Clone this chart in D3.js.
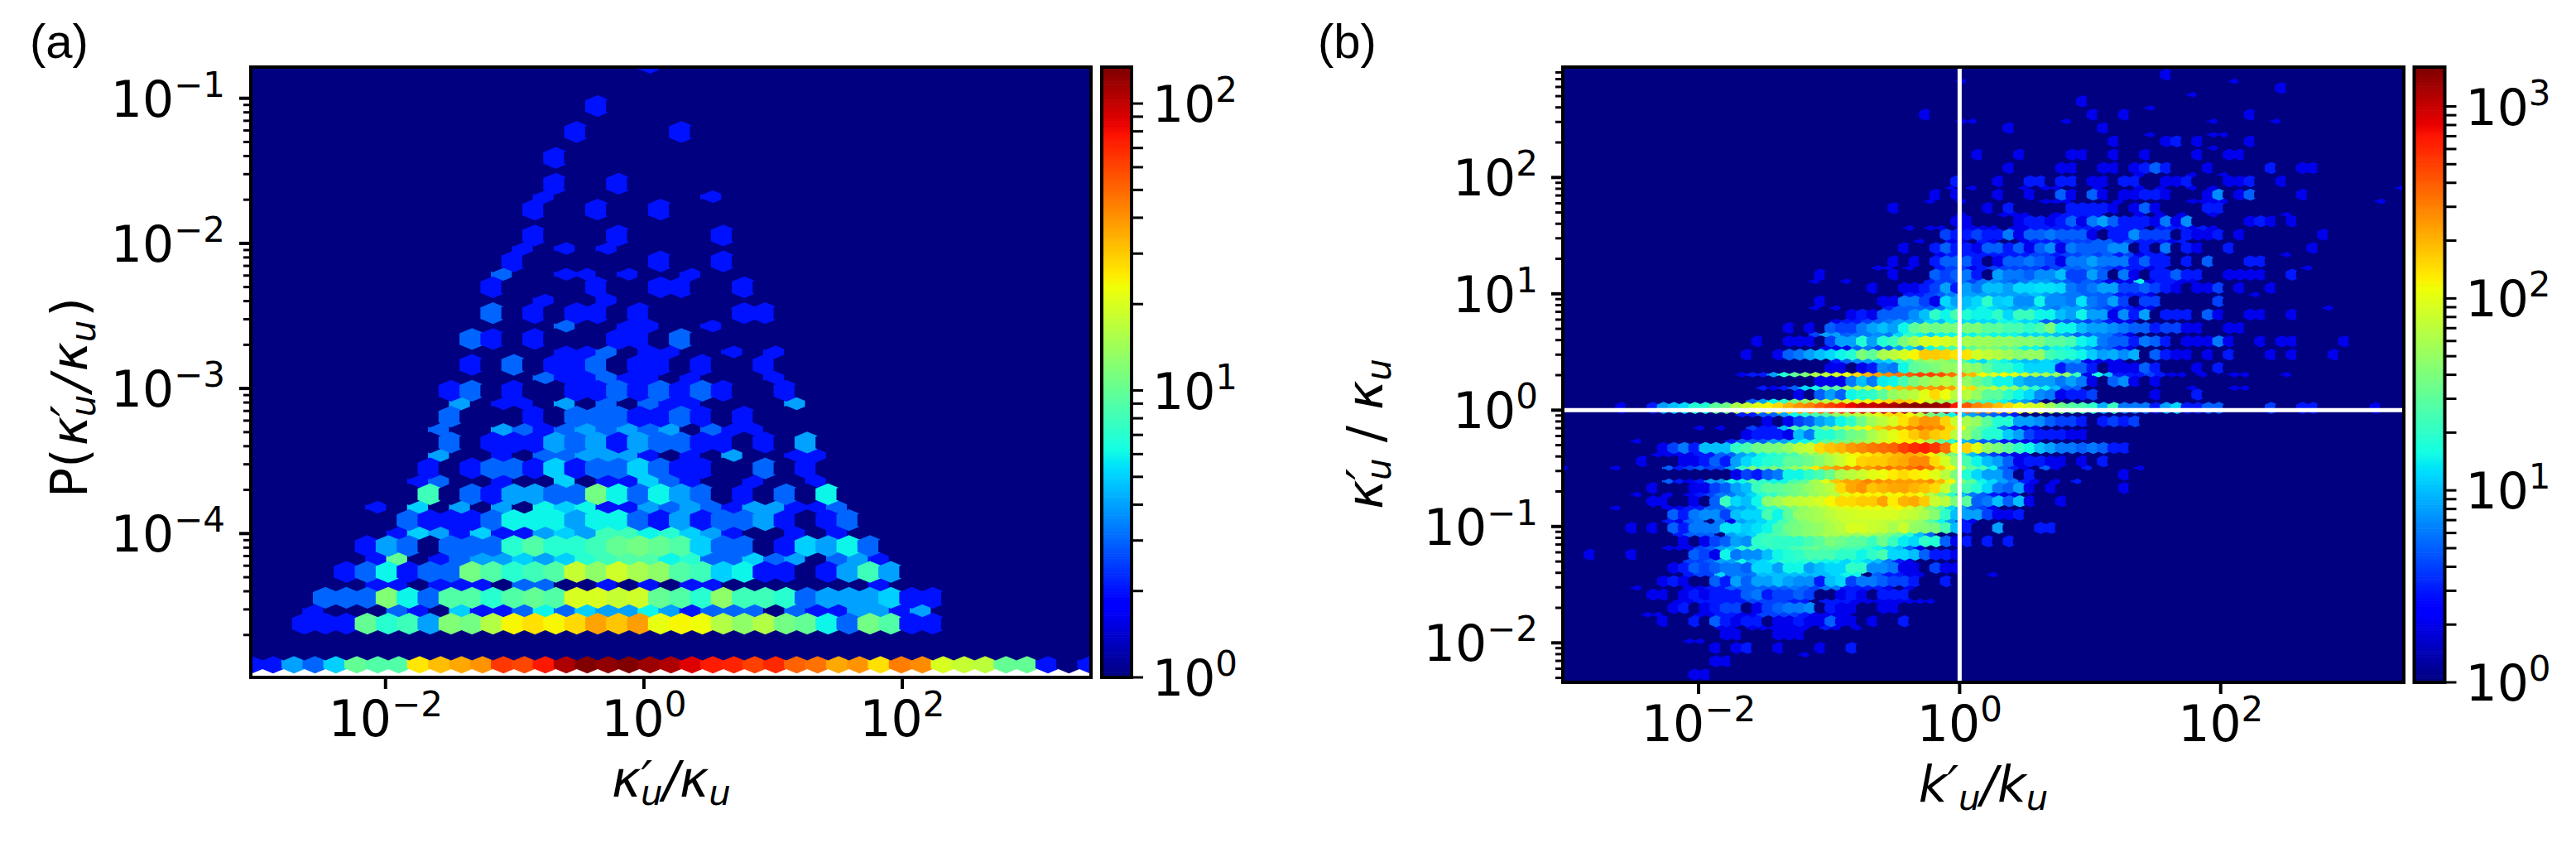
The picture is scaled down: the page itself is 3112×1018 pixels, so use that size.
<!DOCTYPE html>
<html>
<head>
<meta charset="utf-8">
<script src="https://cdn.jsdelivr.net/npm/d3@7"></script>
<style>
  body { margin: 0; background: #fff; }
  text { font-family: "DejaVu Sans"; fill: #000; }
</style>
</head>
<body>
<svg id="fig" width="3112" height="1018"></svg>
<script>
// every row is [row, first column, counts]; anything not listed is a count of 1 (dark blue)
// panel (a), lattice 1 (lower layer) and lattice 2 (upper layer)
const aLower = [
  [0, 0, [2,2,4,3,5,10,9,9,26,32,36,40,65,60,76,110,134,125,134,120,110,90,75,72,62,70,52,48,36,40,27,45,42,20,18,17,10,10,2,1,2]],
  [2, 3, [2,1,1,1,3,2,1,5,2,2,3,6,3,5,4,4,6,4,2,3,3,3,1,3,2,2,4,4,2,4]],
  [3, 6, [2,2,1,2,2,2,1,3,3,1,1,2,1,2,1,2,2,1,1,1,1,1,1,1,2]],
  [4, 6, [2,10,1,2,3,4,4,5,4,5,7,8,9,9,6,7,3,3,5,3,4,1,3,4,2]],
  [5, 7, [2,5,4,2,5,2,2,4,5,4,8,8,6,7,5,4,2,1,1,2,1,2]],
  [6, 6, [2,1,5,1,4,1,4,1,6,5,6,2,2,4,3,4,3,2,4,4,2,2,3]],
  [7, 8, [2,3,1,1,2,1,1,5,1,2,2,5,3,2,1,1,2,1,1,2]],
  [8, 9, [4,1,1,2,1,3,3,4,4,4,2,1,2,1,4,1,1,2,2]],
  [9, 9, [3,1,1,4,3,2,3,4,3,4,3,4,1,3,2,2]],
  [10, 10, [4,1,2,2,1,4,1,3,1,3,2,2,1,1,1,1,4]],
  [11, 14, [3,2,2,3,2,2,1,2,1,1,1,2]],
  [12, 15, [2,2,3,1,2,2,1,1,2,1,2]],
  [13, 15, [3,1,1,2,2,1,1,2]],
  [14, 14, [2,1,1,2]],
  [15, 12, [3,1,1,2,2,1,2,1,1,2]],
  [16, 13, [2,1,2,1,2]],
  [18, 14, [2,1,1,1,1,1,1,1,2]],
  [23, 19, [2]]
]
const aUpper = [
  [1, 2, [2,2,2,10,7,8,4,12,11,16,24,27,24,28,37,31,38,22,24,23,16,13,16,11,10,6,3,11,9,2,2]],
  [2, 3, [3,3,3,12,6,3,9,9,7,9,10,9,20,20,18,19,10,9,7,13,8,8,7,3,4,4,4,5,2,2]],
  [3, 4, [2,3,6,2,3,3,11,9,7,8,9,18,13,19,15,13,9,8,5,6,2,2,1,2,4,8,4]],
  [4, 5, [2,4,3,1,3,3,3,7,9,7,7,8,10,11,10,9,5,3,3,1,2,5,4,6,3]],
  [5, 7, [3,2,2,2,3,6,6,6,4,6,6,3,2,4,2,3,3,4,2,1,2,3]],
  [6, 8, [8,1,3,2,4,4,3,3,11,6,3,6,4,3,1,2,1,3,1,6]],
  [7, 8, [2,1,2,3,3,2,5,2,3,3,5,3,2,2,1,1,3,1,2]],
  [8, 9, [3,1,2,2,2,4,3,4,2,4,3,3,2,2,1,2,1,4]],
  [9, 9, [3,1,1,1,2,1,3,3,3,2,2,3,2,1,2]],
  [10, 9, [2,3,1,2,1,1,2,2,3,2,3,2,3,2,1,1,2]],
  [11, 10, [2,1,3,1,2,2,3,1,2,2,1,2,1,1,2]],
  [12, 10, [3,2,1,2,1,1,1,2,2,1,3]],
  [13, 11, [3,1,2,1,2,2,1,2,1,1,1,1,2,2]],
  [14, 11, [2,1,1,1,1,2,1,1,2,2,1,1,2]],
  [15, 12, [2,1,1,1,1,1,1,2,1,1,2]],
  [16, 13, [2,1,1,1,2,1,1,1,1,2]],
  [17, 13, [2,1,1,2,1,1,2]],
  [18, 14, [2,1,1,2]],
  [19, 14, [2]],
  [20, 15, [2,1,1,1,1,2]],
  [21, 16, [2]]
]

// panel (b), lattice 1 (lower layer), short rows written as [row, col, count, col, count ...]
const bLower = [
  [5, 12, [1,2,2,3,3,2,2,4,4,4,4,3,2,2,2,2]],
  [6, 11, [2,2,3,3,3,3,3,4,4,4,4,3,3,1,3,3,3,2,2,2,2,2,2,2,2]],
  [7, 12, [2,2,3,3,5,5,5,5,5,5,6,5,4,6,6,3,3,3,3,2,1,2]],
  [8, 12, [3,4,4,12,6,6,6,10,10,10,10,10,10,10,12,15,15,1,5,3,3,2,2]],
  [9, 12, [4,4,5,8,8,15,10,12,15,18,18,18,18,15,15,12,15,12,10,6,3,2]],
  [10, 12, [2,4,5,8,10,18,20,18,20,20,25,30,35,30,30,25,25,20,15,12,10,5,2]],
  [11, 11, [3,5,5,5,1,8,10,12,20,25,30,40,45,50,60,60,60,50,60,50,40,30,20,10,5]],
  [12, 10, [3,2,5,6,1,6,2,8,10,12,15,25,35,45,55,60,70,80,80,80,80,70,70,60,50,30,15,8,3,2]],
  [13, 10, [2,2,3,3,5,5,8,8,10,18,20,30,40,50,60,70,90,100,100,110,110,100,120,90,70,40,25,12,8,5,4,2]],
  [14, 12, [2,3,4,6,6,8,12,18,20,30,35,40,50,60,70,100,120,120,120,110,120,130,110,70,40,20,10,6,5,3,2,2]],
  [15, 10, [5,3,2,3,8,8,15,15,25,20,15,15,25,30,60,100,180,230,230,300,280,260,250,250,250,280,200,120,40,30,15,12,8,6,3,2,1,2,1,3]],
  [16, 0, [2,1,1,1,1,2,1,1,1,1,5,3,4,5,4,4,8,20,40,30,40,35,50,60,130,200,250,300,300,250,300,350,300,350,420,350,200,120,60,30,25,15,5,3,2,1,5,2,1,1,3,1,1,1,1,2]],
  [17, 9, [2,2,2,2,3,3,5,5,8,10,15,18,22,25,40,50,60,80,100,120,130,150,170,200,220,200,130,80,40,20,10,6,4,3,2,2]],
  [18, 16, [3,5,5,5,8,8,12,15,20,30,35,40,50,60,80,100,120,130,100,60,35,20,10,8,5,5,3,3,2,2]],
  [19, 13, [2,1,2,1,1,4,3,3,10,25,25,25,40,60,70,90,120,160,220,270,300,350,300,280,150,100,40,25,18,6,3,2,2]],
  [20, 17, [3,3,5,5,8,15,20,25,30,50,60,70,80,100,150,150,120,80,40,30,15,10,8,6,5,4,3]],
  [21, 18, [5,8,15,20,40,50,60,70,80,90,100,110,130,150,180,160,120,80,60,50,40,30,25,20,15,10,8,5]],
  [22, 19, [3,2,3,5,12,15,30,30,50,60,70,100,150,180,200,260,250,280,230,130,150,60,70,60,50,35,20,15,10,5,5,1,1,1,1,1,1,1,1,1,1,2,1,1,1,2,2]],
  [23, 17, [2,3,3,8,18,30,40,60,70,85,110,150,200,230,280,330,400,500,500,450,350,250,200,120,90,120,100,80,60,60,50,50,22,2,16,10,3,3,3,4,3,2,2,1,2,1,1,2,2,1,1,1,2]],
  [24, 26, [3,5,7,8,10,12,20,25,40,50,50,40,30,15,12,20,15,12,10,10,12,10,8,8,2,2,2,2]],
  [25, 25, [2,2,2,5,6,4,5,8,12,8,15,20,25,20,30,40,40,30,30,15,15,12,15,15,10,8,5,5,3,2]],
  [26, 24, [4,8,8,5,6,6,7,6,12,20,15,12,15,15,15,15,20,15,15,15,12,12,12,10,8,5,5,6,6,4,2]],
  [27, 26, [2,3,3,4,5,6,8,8,8,12,10,15,12,12,12,12,15,15,12,12,5,5,5,5,4,5,3,2,2]],
  [28, 31, [3,5,5,5,5,6,10,10,12,15,12,10,8,8,10,7,6,8,8,6,5,4,3,3,2,2]],
  [29, 33, [3,3,4,5,6,8,8,8,8,8,8,8,10,8,7,6,6,5,5,5,3,3,3,2]],
  [30, 35, [3,4,4,6,4,6,7,6,5,6,8,8,6,5,4,5,4,2,2,2,15,2,3,3,2,2]],
  [31, 36, [3,4,4,2,3,4,4,4,4,4,3,4,5,5,6,5,4,3,3,3,2,3]],
  [32, 36, [2,3,3,3,3,3,3,3,3,4,4,3,4,4,5,4,5,3,4,2,3,3]],
  [33, 44, [2,3,3,3,4,4,4,5,5,3,4,3,3,3,2,3]],
  [34, 43, [2,2,3,3,3,3,3,3,3,3,3,3,3,1,3,3,3,2,3,2]],
  [35, 47, [2,3,3,3,3]]
]
const bLowerSparse = [
  [2, 23,2], [3, 12,2, 13,2],
  [4, 15,2, 16,2, 18,2, 19,2, 20,2, 21,2, 22,2, 23,2, 25,3, 26,2, 28,2],
  [5, 8,2, 9,2], [7, 7,2], [8, 41,2], [10, 10,2, 11,2], [13, 5,2], [14, 7,2, 10,2], [18, 7,2],
  [28, 24,2, 26,2, 73,2], [29, 66,2], [30, 24,2, 27,2], [31, 30,2, 31,2, 33,2, 71,2], [32, 69,2],
  [33, 34,2, 37,2, 38,2, 40,3, 41,2],
  [34, 33,2, 35,2, 36,2, 38,2, 39,2, 40,2, 41,2],
  [35, 38,2, 42,2, 43,2, 44,2, 55,2, 57,2, 59,2, 62,2, 69,2],
  [36, 35,2, 38,2, 46,2, 47,2, 48,2, 53,2, 60,2, 61,2, 62,2, 63,2, 78,2],
  [37, 37,2, 39,2, 44,2, 46,2, 47,2, 51,2, 55,2, 57,2, 60,2, 62,2, 80,2],
  [38, 55,2, 60,2, 63,2], [40, 62,2], [41, 56,2, 62,2, 63,2],
  [42, 38,2, 39,2, 48,2, 62,2, 68,2], [43, 56,2], [44, 60,2], [45, 38,2, 64,2]
]
// panel (b), lattice 2 (upper layer)
const bUpper = [
  [4, 9, [2,1,1,3,1,5,3,2,3,3,1,2,2,3,2,2,5,2,2,1,2,1,1,3]],
  [5, 10, [2,3,1,2,3,4,4,1,2,4,5,6,6,7,1,3,2,2,1,1,2,2]],
  [6, 8, [2,2,1,2,3,2,3,3,3,5,6,3,4,4,5,4,1,1,2,3,2,1,3,3,3]],
  [7, 9, [2,3,2,1,1,5,3,8,5,8,8,10,8,7,7,3,10,12,4,6,6,5,4,4,3,1,1,3]],
  [8, 10, [2,3,5,4,5,6,6,5,12,12,8,15,15,8,10,12,12,20,20,7,7,6,2,2,1,4,2,2]],
  [9, 2, [2,1,1,1,2,1,1,1,1,1,5,4,2,15,6,7,7,10,15,18,20,25,25,25,20,20,15,20,25,12,12,10,5,3,3,2]],
  [10, 11, [2,1,2,4,5,8,7,20,22,20,20,20,25,30,40,35,30,30,22,35,22,14,12,20,18,5,2,3,1,3,1,3]],
  [11, 6, [2,1,2,1,5,3,6,6,6,13,13,11,13,15,25,35,40,45,50,60,70,90,90,80,75,60,80,50,45,40,25,10,3,1,1,8,1,1,1,3,3]],
  [12, 10, [5,3,6,7,7,4,10,12,12,25,15,30,50,55,60,70,80,85,90,90,90,90,80,75,60,45,20,10,8,8,4,2,2,3]],
  [13, 8, [2,2,1,1,2,1,5,22,12,10,15,45,55,70,75,80,90,120,150,150,170,170,230,130,200,220,170,80,70,40,30,5,6,10,5,10,2,1,1,2]],
  [14, 8, [2,1,1,1,2,2,4,5,8,10,22,30,30,35,40,50,60,70,150,220,260,180,200,220,230,200,180,150,80,35,25,18,12,6,5,8,2,1,2,1,1,1,1,1,1,2]],
  [15, 16, [2,4,3,5,6,15,15,20,25,35,60,70,80,100,110,130,150,130,120,100,70,40,18,12,8,8,5,1,3,1,1,1,1,1,1,1,1,2]],
  [16, 7, [2,1,1,1,2,2,3,5,3,8,12,15,18,20,30,30,35,45,60,80,110,160,170,170,200,220,280,280,150,90,50,25,15,10,8,5,2,3,3,2,2,1,2,1,3]],
  [17, 9, [2,4,6,3,10,10,10,20,25,35,40,40,50,70,80,150,180,200,250,280,320,350,380,500,600,650,550,350,120,160,100,50,40,30,20,15,10,8,6,6,5,6,5,3,3]],
  [18, 17, [2,3,3,3,2,10,6,18,18,25,35,40,60,80,100,130,170,220,170,150,70,50,30,18,18,11,8,4,3,3,3,2,2]],
  [19, 19, [2,1,2,4,5,8,10,15,20,35,55,70,90,140,200,260,250,160,80,60,50,30,18,18,8,8,7,5,4,4,3,1,3,4,3,4]],
  [20, 5, [2,1,1,3,8,10,12,18,18,30,35,60,80,100,120,150,200,260,300,400,500,600,800,1000,1000,1100,1200,1400,1500,1500,1400,1200,700,420,300,250,190,150,110,90,85,55,35,28,25,20,9,22,6,6,6,3,8,12,3,3,5,5,1,1,1,1,4,1,1,3,3,1,1,1,1,1,2]],
  [21, 22, [2,1,5,8,5,15,18,20,30,50,60,70,100,150,110,70,70,50,30,30,20,15,12,7,6,2,3,3,4,1,1,1,1,1,2,1,1,1,3]],
  [22, 24, [2,2,2,6,10,6,14,15,25,40,50,60,70,60,50,35,25,15,15,10,8,8,8,6,8,6,2,1,5,7,2,1,2]],
  [23, 25, [2,2,1,2,3,7,6,15,30,35,40,50,50,50,45,30,20,20,15,12,12,12,3,5,5,3,1,2,2,2,5,3,1,1,1,2,1,3]],
  [24, 17, [2,1,1,2,5,6,8,10,12,15,18,40,30,60,70,90,120,170,170,160,140,140,85,75,65,55,45,50,50,24,20,18,15,11,8,9,7,9,1,5,3,2,2,1,2,1,3,1,1,1,2,1,2,1,1,1,2]],
  [25, 18, [2,1,1,2,2,2,1,4,8,8,18,8,18,22,40,60,90,100,90,80,60,55,55,50,50,45,45,40,30,30,25,15,13,6,5,5,3,6,5,3,1,2,2,2,6,2,1,1,2,1,2,2,1,1,1,1,2]],
  [26, 21, [2,1,2,1,5,4,4,6,8,10,8,15,30,40,35,40,40,40,40,30,30,25,25,20,25,40,15,15,10,8,8,7,6,5,5,3,4,4,2,2,1,1,2,2]],
  [27, 27, [2,3,2,5,5,5,7,10,20,15,25,18,15,15,20,12,22,22,15,15,10,8,15,8,8,2,7,3,8,1,3,3,3,1,5,2,1,1,2,2,1,1,2]],
  [28, 24, [2,1,1,1,1,1,2,2,6,6,4,2,12,8,10,12,20,11,12,7,7,15,7,7,6,13,6,5,8,4,1,4,4,1,1,1,1,1,4]],
  [29, 29, [2,1,1,2,2,3,4,8,3,8,6,10,10,8,12,12,13,13,12,6,5,6,8,8,4,4,5,4,3,2,1,2,2,4,1,2,1,1,2]],
  [30, 24, [2,1,1,1,1,1,1,2,1,1,1,5,4,5,6,3,1,8,6,6,5,7,7,10,4,4,8,5,1,6,2,1,3,3,5,3,3,1,1,2,2,2,2,1,1,3]],
  [31, 31, [2,1,2,1,3,5,5,5,3,1,2,5,5,6,5,4,2,6,6,8,6,6,6,3,5,3,3,1,3,1,5,1,1,1,3,3]],
  [32, 32, [2,1,1,3,5,3,3,2,5,5,3,5,2,5,7,2,6,5,5,5,7,7,1,3,1,6,1,3,2,1,1,3,1,1,1,1,1,1,1,2]],
  [33, 36, [4,3,3,4,3,3,6,2,5,5,6,5,5,5,2,1,3,3,7,4,4,4,1,3,2,2,3,1,2,1,1,1,1,1,1,1,2]],
  [34, 37, [2,2,1,1,1,1,2,3,3,2,3,5,2,6,8,5,3,3,3,2,6,2,7,1,1,1,1,1,2,3,2,1,2]],
  [35, 31, [2,1,1,1,1,1,1,1,1,2,1,3,1,1,1,1,1,3,3,3,3,2,1,2,5,2,1,1,1,1,3,3]],
  [36, 35, [2,1,2,1,1,1,2,1,1,2,1,1,5,2,1,5,2,1,2,2,3,3,2,1,1,1,2,7,1,2,5,1,1,1,1,2]],
  [37, 37, [3,1,1,1,2,1,1,3,3,1,3,3,1,2,2,1,3,3,1,1,2,2,3,1,1,1,2,2,3,1,1,2]]
]
const bUpperSparse = [
  [0, 12,2, 13,2], [1, 14,2, 15,2], [2, 14,2, 16,2, 17,3, 20,2, 24,2, 27,3], [3, 15,2, 16,2, 20,2, 21,2, 22,2],
  [38, 42,2, 47,2, 48,2, 51,2, 52,2, 54,2, 55,3, 56,5, 57,3, 61,2, 67,3, 70,2, 71,2],
  [39, 39,2, 43,2, 48,2, 49,2, 52,2, 55,2, 60,2, 63,2, 64,2],
  [40, 52,2, 57,2, 58,3, 60,2, 65,2], [41, 42,2, 51,2], [42, 34,2, 50,2, 53,2, 65,2],
  [43, 49,2], [44, 68,2], [45, 57,2]
]

const xTicks = [-2, 0, 2]
const yTicksA = [-4, -3, -2, -1]
const yTicksB = [-2, -1, 0, 1, 2]
const cbarTicksA = [0, 1, 2]
const cbarTicksB = [0, 1, 2, 3]
const cbarMaxA = 134
const cbarMaxB = 1603
const panelNames = ['(a)', '(b)']

const svg = d3.select('#fig')

const jetR = d3.scaleLinear().domain([0, 0.35, 0.66, 0.89, 1]).range([0, 0, 1, 1, 0.5])
const jetG = d3.scaleLinear().domain([0, 0.125, 0.375, 0.64, 0.91, 1]).range([0, 0, 1, 1, 0, 0])
const jetB = d3.scaleLinear().domain([0, 0.11, 0.34, 0.65, 1]).range([0.5, 1, 1, 0, 0])
const jet = (t) => d3.rgb(jetR(t) * 255, jetG(t) * 255, jetB(t) * 255).formatHex()

function minorValues (lo, hi) {
  const out = []
  d3.range(lo, hi).forEach((e) => {
    d3.range(2, 10).forEach((m) => out.push(m * Math.pow(10, e)))
  })
  return out
}

function fillCounts (rows, sparse) {
  const counts = new Map()
  rows.forEach(([j, start, vals]) => {
    vals.forEach((v, k) => counts.set((start + k) + ',' + j, v))
  })
  sparse.forEach((r) => {
    for (let k = 1; k < r.length; k += 2) counts.set(r[k] + ',' + r[0], r[k + 1])
  })
  return counts
}

function powerLabel (sel, exp) {
  sel.append('tspan').text('10')
  sel.append('tspan')
    .attr('font-size', 42)
    .attr('dy', -24)
    .text(String(exp).replace('-', '\u2212'))
}

// parts are { t, sub, roman, gap }; the whole label is oblique apart from roman pieces
function mathLabel (sel, parts) {
  let lift = 0
  parts.forEach((p) => {
    const drop = p.sub ? 10 : 0
    sel.append('tspan')
      .attr('font-size', p.sub ? 42 : 60)
      .attr('font-style', p.roman ? 'normal' : 'italic')
      .attr('dy', drop - lift)
      .attr('dx', p.gap || 0)
      .text(p.t)
    lift = drop
  })
}

function drawHexbin (p) {
  const g = svg.append('g')
  g.append('clipPath').attr('id', 'clip' + p.id).append('rect')
    .attr('x', p.left).attr('y', p.top)
    .attr('width', p.right - p.left).attr('height', p.bottom - p.top)

  const x = d3.scaleLog().domain(p.xDomain.map((d) => Math.pow(10, d))).range([p.left, p.right])
  const y = d3.scaleLog().domain(p.yDomain.map((d) => Math.pow(10, d))).range([p.bottom, p.top])
  const color = d3.scaleLog().domain([1, p.cMax]).range([0, 1])

  const lower = fillCounts(p.lower, p.lowerSparse)
  const upper = fillCounts(p.upper, p.upperSparse)
  const cells = []
  d3.range(p.nx + 1).forEach((i) => {
    d3.range(p.ny + 1).forEach((j) => {
      cells.push({ lx: p.x0 + i * p.dx, ly: p.y0 + j * p.dy, v: lower.get(i + ',' + j) || 1 })
    })
  })
  d3.range(p.nx).forEach((i) => {
    d3.range(p.ny).forEach((j) => {
      cells.push({ lx: p.x0 + (i + 0.5) * p.dx, ly: p.y0 + (j + 0.5) * p.dy, v: upper.get(i + ',' + j) || 1 })
    })
  })

  const hexShape = [[0.5, -0.5], [0.5, 0.5], [0, 1], [-0.5, 0.5], [-0.5, -0.5], [0, -1]]
  const hexLine = d3.line()
  g.append('g')
    .attr('clip-path', 'url(#clip' + p.id + ')')
    .selectAll('path')
    .data(cells)
    .join('path')
    .attr('d', (d) => hexLine(hexShape.map((h) => [
      x(Math.pow(10, d.lx + h[0] * p.dx)),
      y(Math.pow(10, d.ly + h[1] * p.dy / 3))
    ])) + 'Z')
    .attr('fill', (d) => jet(color(d.v)))
    .attr('stroke', (d) => jet(color(d.v)))
    .attr('stroke-width', p.edge)
    .attr('stroke-linejoin', p.join)

  if (p.guides) {
    const guides = g.append('g').attr('clip-path', 'url(#clip' + p.id + ')')
      .attr('stroke', '#fff').attr('stroke-width', 5)
    guides.append('line').attr('x1', x(1)).attr('x2', x(1)).attr('y1', p.top).attr('y2', p.bottom)
    guides.append('line').attr('y1', y(1)).attr('y2', y(1)).attr('x1', p.left).attr('x2', p.right)
  }

  const yMajor = p.yTicks.map((e) => Math.pow(10, e))
  const yMinor = minorValues(p.yMinorFrom, p.yMinorTo).filter((v) => y(v) > p.top && y(v) < p.bottom)

  const bottomAxis = g.append('g').attr('transform', 'translate(0,' + p.bottom + ')')
    .call(d3.axisBottom(x).tickValues(xTicks.map((e) => Math.pow(10, e))).tickSize(14).tickFormat('').offset(0))
  const leftAxis = g.append('g').attr('transform', 'translate(' + p.left + ',0)')
    .call(d3.axisLeft(y).tickValues(yMajor).tickSize(14).tickFormat('').offset(0))
  const leftMinor = g.append('g').attr('transform', 'translate(' + p.left + ',0)')
    .call(d3.axisLeft(y).tickValues(yMinor).tickSize(9).tickFormat('').offset(0))
  ;[bottomAxis, leftAxis, leftMinor].forEach((a) => {
    a.select('.domain').remove()
    a.attr('font-size', null).attr('font-family', null)
    a.selectAll('line').attr('stroke', '#000').attr('stroke-width', 4)
  })
  leftMinor.selectAll('line').attr('stroke-width', 3)

  g.append('rect')
    .attr('x', p.left).attr('y', p.top)
    .attr('width', p.right - p.left).attr('height', p.bottom - p.top)
    .attr('fill', 'none').attr('stroke', '#000').attr('stroke-width', 4)

  g.append('g').selectAll('text').data(xTicks).join('text')
    .attr('x', (e) => x(Math.pow(10, e)))
    .attr('y', p.xLabelY)
    .attr('text-anchor', 'middle')
    .attr('font-size', 60)
    .each(function (e) { powerLabel(d3.select(this), e) })

  g.append('g').selectAll('text').data(p.yTicks).join('text')
    .attr('x', p.yLabelX)
    .attr('y', (e) => y(Math.pow(10, e)) + 22)
    .attr('text-anchor', 'end')
    .attr('font-size', 60)
    .each(function (e) { powerLabel(d3.select(this), e) })

  // colour bar
  const cy = d3.scaleLog().domain([1, p.cMax]).range([p.bottom, p.top])
  const bands = d3.range(256)
  g.append('g').selectAll('rect').data(bands).join('rect')
    .attr('x', p.cLeft)
    .attr('width', p.cRight - p.cLeft)
    .attr('y', (b) => p.bottom - (b + 1) * (p.bottom - p.top) / 256)
    .attr('height', (p.bottom - p.top) / 256 + 0.6)
    .attr('fill', (b) => jet(b / 255))
  g.append('rect')
    .attr('x', p.cLeft).attr('y', p.top)
    .attr('width', p.cRight - p.cLeft).attr('height', p.bottom - p.top)
    .attr('fill', 'none').attr('stroke', '#000').attr('stroke-width', 4)

  const cMajor = p.cTicks.map((e) => Math.pow(10, e))
  const cMinor = minorValues(0, d3.max(p.cTicks)).filter((v) => v < p.cMax)
  const cAxis = g.append('g').attr('transform', 'translate(' + p.cRight + ',0)')
    .call(d3.axisRight(cy).tickValues(cMajor.concat(cMinor)).tickSize(14).tickFormat('').offset(0))
  cAxis.select('.domain').remove()
  cAxis.selectAll('line').attr('stroke', '#000').attr('stroke-width', 3)

  g.append('g').selectAll('text').data(p.cTicks).join('text')
    .attr('x', p.cRight + 25)
    .attr('y', (e) => cy(Math.pow(10, e)) + 22)
    .attr('font-size', 60)
    .each(function (e) { powerLabel(d3.select(this), e) })

  g.append('text')
    .attr('x', p.nameX).attr('y', 70)
    .attr('font-size', 58)
    .style('font-family', '"Liberation Sans"')
    .text(p.name)

  g.append('text')
    .attr('x', p.xTitleX).attr('y', p.xTitleY)
    .attr('text-anchor', 'middle')
    .call(mathLabel, p.xTitle)

  g.append('text')
    .attr('transform', 'translate(' + p.yTitleX + ',' + p.yTitleY + ') rotate(-90)')
    .attr('text-anchor', 'middle')
    .call(mathLabel, p.yTitle)
}

const kappaPrime = { t: '\u03ba\u2032' }
const kappa = { t: '\u03ba' }
const subU = { t: 'u', sub: true }
const subTucked = { t: 'u', sub: true, gap: -14 }
const slash = { t: '/' }

drawHexbin({
  id: 'A', name: panelNames[0], nameX: 36,
  left: 303, right: 1318, top: 81, bottom: 818,
  xDomain: [-3.043, 3.461], yDomain: [-4.9914, -0.7848],
  x0: -3.033, dx: 0.16213, y0: -4.8887, dy: 0.17837, nx: 40, ny: 23,
  lower: aLower, lowerSparse: [], upper: aUpper, upperSparse: [],
  edge: 5, join: 'miter', guides: false,
  yTicks: yTicksA, yMinorFrom: -5, yMinorTo: 0,
  xLabelY: 889, yLabelX: 272,
  cLeft: 1331, cRight: 1367, cMax: cbarMaxA, cTicks: cbarTicksA,
  xTitleX: 811, xTitleY: 962, xTitle: [kappaPrime, subTucked, slash, kappa, subU],
  yTitleX: 105, yTitleY: 480,
  yTitle: [
    { t: 'P(', roman: true }, { t: '\u03ba\u2032', gap: 3 }, subTucked,
    { t: '/', gap: 4 }, { t: '\u03ba', gap: 4 }, subU, { t: ')', roman: true, gap: 4 }
  ]
})

drawHexbin({
  id: 'B', name: panelNames[1], nameX: 1592,
  left: 1888, right: 2904, top: 81, bottom: 824,
  xDomain: [-3.040, 3.403], yDomain: [-2.3395, 2.9488],
  x0: -3.0306, dx: 0.08028, y0: -2.3302, dy: 0.11459, nx: 80, ny: 46,
  lower: bLower, lowerSparse: bLowerSparse, upper: bUpper, upperSparse: bUpperSparse,
  edge: 3.6, join: 'round', guides: true,
  yTicks: yTicksB, yMinorFrom: -3, yMinorTo: 3,
  xLabelY: 895, yLabelX: 1858,
  cLeft: 2916.5, cRight: 2953.5, cMax: cbarMaxB, cTicks: cbarTicksB,
  xTitleX: 2396, xTitleY: 968, xTitle: [{ t: 'k\u2032' }, subU, slash, { t: 'k' }, subU],
  yTitleX: 1670, yTitleY: 524,
  yTitle: [kappaPrime, subTucked, { t: ' / ', roman: true }, kappa, subU]
})
</script>
</body>
</html>
